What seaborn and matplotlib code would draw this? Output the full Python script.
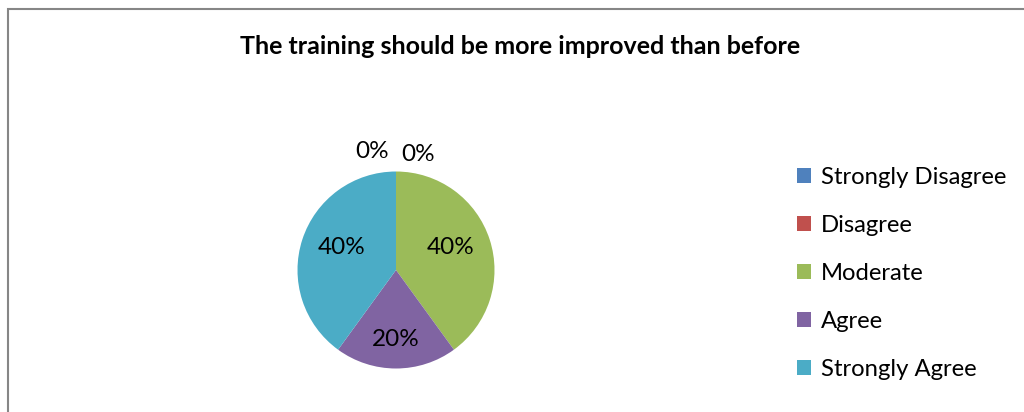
import matplotlib
matplotlib.use("Agg")
import matplotlib.pyplot as plt
from matplotlib.patches import Rectangle, Patch
import seaborn as sns
import numpy as np

categories = ["Strongly Disagree", "Disagree", "Moderate", "Agree", "Strongly Agree"]
percent = [0, 0, 40, 20, 40]
colors = ["#4F81BD", "#C0504D", "#9BBB59", "#8064A2", "#4BACC6"]
title = "The training should be more improved than before"

sns.set_theme(style="white")
plt.rcParams["font.family"] = ["Lato", "DejaVu Sans"]
plt.rcParams["text.color"] = "black"

W, H = 1024, 412
fig = plt.figure(figsize=(W / 100, H / 100), dpi=100)
fig.patch.set_facecolor("white")

# outer frame (only left/top edges visible in the crop)
fig.patches.append(Rectangle((7.5 / W, -0.2), 1.2, (H - 9) / H + 0.2, transform=fig.transFigure,
                             fill=False, edgecolor="#868686", linewidth=1.5))

cx, cy, r = 396, 270, 98.5
ax = fig.add_axes([(cx - r) / W, (H - cy - r) / H, 2 * r / W, 2 * r / H])
wedges, texts, autotexts = ax.pie(percent, colors=colors, startangle=90, counterclock=False,
                                  autopct="%1.0f%%", pctdistance=0.62, radius=1,
                                  textprops={"fontsize": 17.5, "color": "black"},
                                  wedgeprops={"linewidth": 0})
ax.set_xlim(-1, 1)
ax.set_ylim(-1, 1)
ax.set_aspect("equal")
ax.axis("off")

# zero slices get their labels just outside the top of the pie
outside = {0: (-0.24, 1.20), 1: (0.22, 1.17)}
for i, t in enumerate(autotexts):
    if i in outside:
        t.set_position(outside[i])
    elif categories[i] == "Agree":
        x, y = t.get_position()
        t.set_position((x * 0.71 / 0.62, y * 0.71 / 0.62))
    else:
        x, y = t.get_position()
        ang = np.arctan2(y, x)
        t.set_position((0.58 * np.cos(ang), 0.58 * np.sin(ang) + 0.05))
    t.set_ha("center")
    t.set_va("center")

fig.text(520 / W, 1 - 47 / H, title, ha="center", va="center", fontsize=18, fontweight="bold",
         color="black")

handles = [Patch(facecolor=c, edgecolor="none") for c in colors]
fig.legend(handles, categories, loc="upper left", bbox_to_anchor=(797 / W, 1 - 167 / H),
           frameon=False, fontsize=17.2, handlelength=0.6, handleheight=0.6, handletextpad=0.4,
           labelspacing=1.13, borderpad=0, borderaxespad=0, labelcolor="black")

fig.savefig("out.png", dpi=100, facecolor="white")
